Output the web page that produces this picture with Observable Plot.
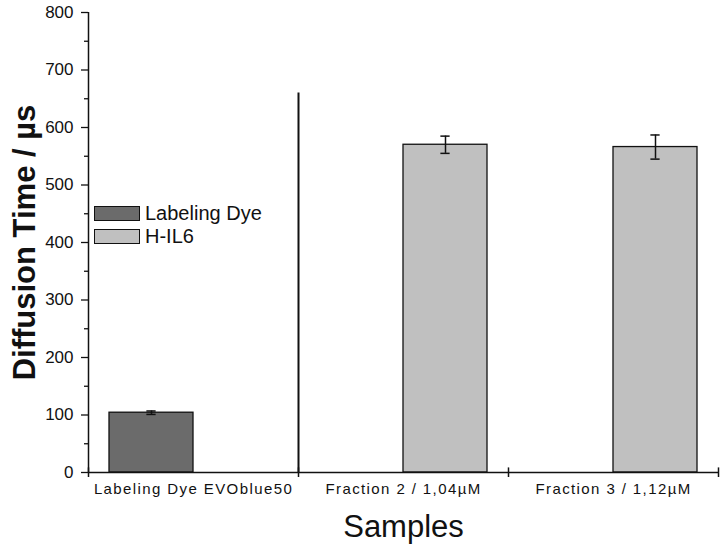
<!DOCTYPE html>
<html><head><meta charset="utf-8">
<script src="https://cdn.jsdelivr.net/npm/d3@7"></script>
<script src="https://cdn.jsdelivr.net/npm/@observablehq/plot@0.6"></script>
<style>
body{margin:0;background:#fff;}
#wrap{position:relative;width:720px;height:548px;font-family:"Liberation Sans",Arial,sans-serif;}
#legend{position:absolute;left:94px;top:202px;font-size:20px;color:#111;}
#legend .row{display:flex;align-items:center;height:23px;}
#legend .sw{width:44px;height:13px;border:1.5px solid #111;margin-right:5px;}
</style>
</head><body><div id="wrap"><div id="legend"></div></div>
<script>
const samples = ["Labeling Dye EVOblue50", "Fraction 2 / 1,04µM", "Fraction 3 / 1,12µM"];
const series = ["Labeling Dye", "H-IL6"];
const sampleSeries = ["Labeling Dye", "H-IL6", "H-IL6"];
const means = [104, 570, 566];
const errors = [3, 15, 21];
const colors = ["#6b6b6b", "#c0c0c0"];
const yMajorTicks = [0, 100, 200, 300, 400, 500, 600, 700, 800];
const yMinorTicks = [50, 150, 250, 350, 450, 550, 650, 750];
const dividerAfterSample = 1;
const dividerTop = 660;

const barWidth = 0.4; // fraction of a sample group
const rows = samples.map((s, i) => {
  const k = series.indexOf(sampleSeries[i]);
  const x1 = i + 0.5 - barWidth + k * barWidth;
  return {i, sample: s, series: sampleSeries[i], mean: means[i], err: errors[i], x1, x2: x1 + barWidth, xc: x1 + barWidth / 2};
});
const boundaries = d3.range(samples.length + 1);
const centers = samples.map((s, i) => i + 0.5);

const chart = Plot.plot({
  width: 720, height: 548,
  marginLeft: 88, marginRight: 2, marginTop: 12, marginBottom: 76,
  style: {fontFamily: "Liberation Sans, Arial, sans-serif", background: "#fff", color: "#111"},
  x: {domain: [0, samples.length]},
  y: {domain: [0, 800]},
  color: {domain: series, range: colors},
  marks: [
    Plot.rectY(rows, {x1: "x1", x2: "x2", y1: 0, y2: "mean", fill: "series", stroke: "#111", strokeWidth: 1.3}),
    Plot.ruleX(rows, {x: "xc", y1: d => d.mean - d.err, y2: d => d.mean + d.err, stroke: "#111", strokeWidth: 1.5}),
    Plot.ruleY(rows.flatMap(d => [{y: d.mean - d.err, xc: d.xc}, {y: d.mean + d.err, xc: d.xc}]),
      {y: "y", x1: d => d.xc - 0.022, x2: d => d.xc + 0.022, stroke: "#111", strokeWidth: 1.5}),
    Plot.ruleX([dividerAfterSample], {y1: 0, y2: dividerTop, stroke: "#111", strokeWidth: 2}),
    Plot.ruleX([0], {y1: 0, y2: 800, stroke: "#111", strokeWidth: 1.5}),
    Plot.ruleY([0], {stroke: "#111", strokeWidth: 1.5}),
    Plot.ruleX(boundaries, {y1: 0, y2: 8, stroke: "#111", strokeWidth: 1.5}),
    Plot.axisX({ticks: boundaries, tickSize: 5, tickFormat: () => "", strokeWidth: 1.5, label: null}),
    Plot.axisX({ticks: centers, tickSize: 0, tickPadding: 11, tickFormat: (d) => samples[Math.floor(d)],
      fontSize: 15, label: "Samples", labelAnchor: "center", labelArrow: "none", labelOffset: 64}),
    Plot.axisY({ticks: yMinorTicks, tickSize: 4, tickFormat: () => "", strokeWidth: 1.3, label: null}),
    Plot.axisY({ticks: yMajorTicks, tickSize: 7, tickPadding: 8, fontSize: 17, strokeWidth: 1.3,
      label: "Diffusion Time / µs", labelAnchor: "center", labelArrow: "none", labelOffset: 76})
  ]
});
document.getElementById("wrap").prepend(chart);

// style axis titles
const svg = d3.select(chart);
svg.selectAll("[aria-label='x-axis label'] text, [aria-label='x-axis label']").attr("font-size", 31);
svg.selectAll("[aria-label='y-axis label'] text, [aria-label='y-axis label']").attr("font-size", 31).attr("font-weight", "bold");
svg.selectAll("[aria-label='x-axis tick label'] text").attr("letter-spacing", "1.4px");

const legend = d3.select("#legend");
series.forEach((s, k) => {
  const row = legend.append("div").attr("class", "row");
  row.append("div").attr("class", "sw").style("background", colors[k]);
  row.append("span").text(s);
});
</script>
</body></html>
